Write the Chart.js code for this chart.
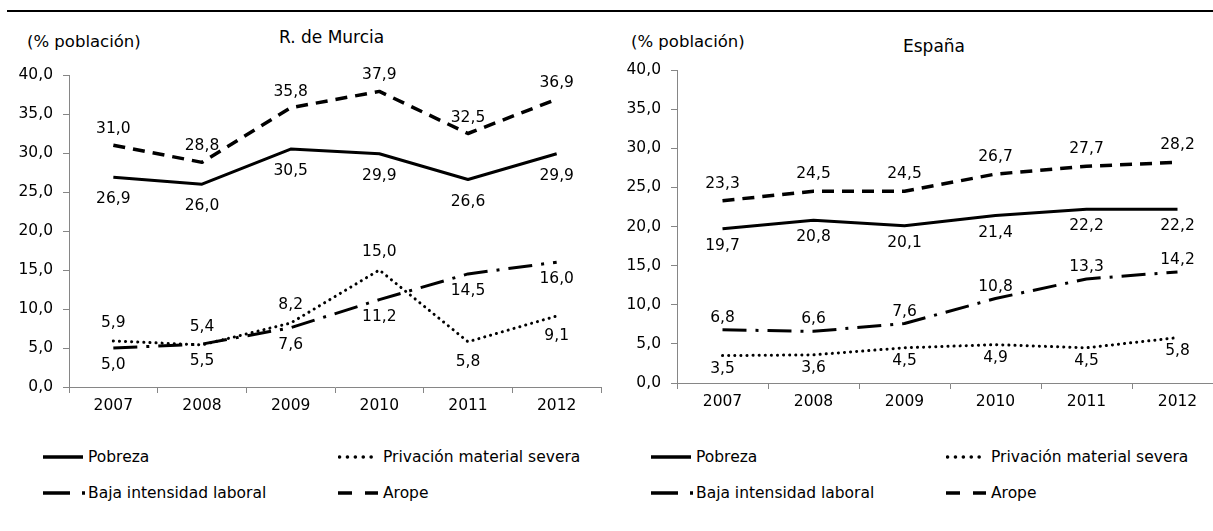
<!DOCTYPE html>
<html>
<head>
<meta charset="utf-8">
<script src="https://cdn.jsdelivr.net/npm/chart.js@4.4.1/dist/chart.umd.min.js"></script>
<style>
body { margin: 0; width: 1213px; height: 531px; overflow: hidden; background: #fff; position: relative;
       font-family: 'DejaVu Sans', Verdana, sans-serif; font-size: 15.5px; color: #000; }
.abs { position: absolute; white-space: nowrap; }
#rule { position: absolute; left: 7px; top: 10px; width: 1206px; height: 2px; background: #000; }
canvas { position: absolute; }
.leg { position: absolute; height: 20px; line-height: 20px; white-space: nowrap; }
.leg svg { position: absolute; left: 0; top: 5px; }
.leg span { position: absolute; top: 0; }
</style>
</head>
<body>
<div id="rule"></div>
<div class="abs" style="left:27px;top:32px;font-size:16.5px;">(% población)</div>
<div class="abs" style="left:279px;top:27px;font-size:17px;">R. de Murcia</div>
<div class="abs" style="left:631px;top:32px;font-size:16.5px;">(% población)</div>
<div class="abs" style="left:903px;top:36px;font-size:17px;">España</div>

<canvas id="murciaChart" width="606" height="380" style="left:0;top:40px;"></canvas>
<canvas id="espanaChart" width="620" height="381" style="left:606px;top:35px;"></canvas>
<div id="legends"></div>

<script>
const years = ['2007', '2008', '2009', '2010', '2011', '2012'];
const seriesNames = ['Pobreza', 'Privación material severa', 'Baja intensidad laboral', 'Arope'];

// R. de Murcia
const murciaPobreza = [26.9, 26.0, 30.5, 29.9, 26.6, 29.9];
const murciaPrivacion = [5.9, 5.4, 8.2, 15.0, 5.8, 9.1];
const murciaBaja = [5.0, 5.5, 7.6, 11.2, 14.5, 16.0];
const murciaArope = [31.0, 28.8, 35.8, 37.9, 32.5, 36.9];

// España
const espanaPobreza = [19.7, 20.8, 20.1, 21.4, 22.2, 22.2];
const espanaPrivacion = [3.5, 3.6, 4.5, 4.9, 4.5, 5.8];
const espanaBaja = [6.8, 6.6, 7.6, 10.8, 13.3, 14.2];
const espanaArope = [23.3, 24.5, 24.5, 26.7, 27.7, 28.2];

const lineStyles = [
    { dash: [], cap: 'butt', width: 3 },
    { dash: [0.1, 6], cap: 'round', width: 3 },
    { dash: [24, 9, 3, 9], cap: 'butt', width: 3 },
    { dash: [12, 8], cap: 'butt', width: 3.5 }
];
const legendDash = ['', '0.1 7.8', '27 12 3 30', '14 13'];

Chart.defaults.font.family = "'DejaVu Sans', Verdana, sans-serif";
Chart.defaults.font.size = 15;
Chart.defaults.color = '#000';

function fmt(v) {
    return Number(v).toFixed(1).replace('.', ',');
}

const valueLabels = {
    id: 'valueLabels',
    afterDatasetsDraw(chart) {
        const ctx = chart.ctx;
        ctx.save();
        ctx.font = "15.5px 'DejaVu Sans', Verdana, sans-serif";
        ctx.fillStyle = '#000';
        ctx.textAlign = 'center';
        ctx.textBaseline = 'middle';
        chart.data.datasets.forEach((ds, i) => {
            const meta = chart.getDatasetMeta(i);
            meta.data.forEach((pt, j) => {
                const off = Array.isArray(ds.labelOffset) ? ds.labelOffset[j] : ds.labelOffset;
                ctx.fillText(fmt(ds.data[j]), pt.x, pt.y + off);
            });
        });
        ctx.restore();
    }
};

function makeDataset(i, data, labelOffset) {
    const s = lineStyles[i];
    return {
        label: seriesNames[i],
        data: data,
        borderColor: '#000',
        backgroundColor: '#000',
        borderWidth: s.width,
        borderDash: s.dash,
        borderCapStyle: s.cap,
        borderJoinStyle: 'round',
        pointRadius: 0,
        tension: 0,
        fill: false,
        labelOffset: labelOffset
    };
}

function createChart(id, datasets, yWidth, rightPad) {
    const ctx = document.getElementById(id).getContext('2d');
    return new Chart(ctx, {
        type: 'line',
        data: { labels: years, datasets: datasets },
        options: {
            responsive: false,
            animation: false,
            layout: { padding: { top: 35, right: rightPad, left: 0, bottom: 0 } },
            plugins: { legend: { display: false }, tooltip: { enabled: false }, title: { display: false } },
            scales: {
                x: {
                    offset: true,
                    grid: { offset: true, drawOnChartArea: false, drawTicks: true, tickLength: 6, color: '#868686' },
                    border: { color: '#868686', width: 1 },
                    ticks: { color: '#000', padding: 4, maxRotation: 0, font: { size: 15.5 } },
                    afterFit(s) { s.height = 33; }
                },
                y: {
                    min: 0,
                    max: 40,
                    ticks: { stepSize: 5, padding: 10, color: '#000', font: { size: 15.5 }, callback: v => fmt(v) },
                    grid: { drawOnChartArea: false, drawTicks: true, tickLength: 6, color: '#868686' },
                    border: { color: '#868686', width: 1 },
                    afterFit(s) { s.width = yWidth; }
                }
            }
        },
        plugins: [valueLabels]
    });
}

createChart('murciaChart', [
    makeDataset(0, murciaPobreza, 22),
    makeDataset(1, murciaPrivacion, [-18, -18, -18, -18, 20, 20]),
    makeDataset(2, murciaBaja, 17),
    makeDataset(3, murciaArope, -16)
], 69, 5);

createChart('espanaChart', [
    makeDataset(0, espanaPobreza, 17),
    makeDataset(1, espanaPrivacion, 13),
    makeDataset(2, espanaBaja, -12),
    makeDataset(3, espanaArope, -17)
], 71, 3);

// legend, two per chart in a 2x2 grid
function buildLegend(originX) {
    const cols = [originX, originX + 295];
    const rows = [447, 483];
    const box = document.getElementById('legends');
    seriesNames.forEach((name, i) => {
        const div = document.createElement('div');
        div.className = 'leg';
        div.style.left = cols[i % 2] + 'px';
        div.style.top = rows[Math.floor(i / 2)] + 'px';
        const capAttr = i === 1 ? 'stroke-linecap="round"' : '';
        const dashAttr = legendDash[i] ? `stroke-dasharray="${legendDash[i]}"` : '';
        div.innerHTML = `<svg width="45" height="10"><line x1="${i === 1 ? 1.5 : 0}" y1="5" x2="${i === 2 ? 42 : 40}" y2="5" stroke="#000" stroke-width="3.5" ${capAttr} ${dashAttr}/></svg><span style="left:45px">${name}</span>`;
        box.appendChild(div);
    });
}
buildLegend(43);
buildLegend(651);
</script>
</body>
</html>
